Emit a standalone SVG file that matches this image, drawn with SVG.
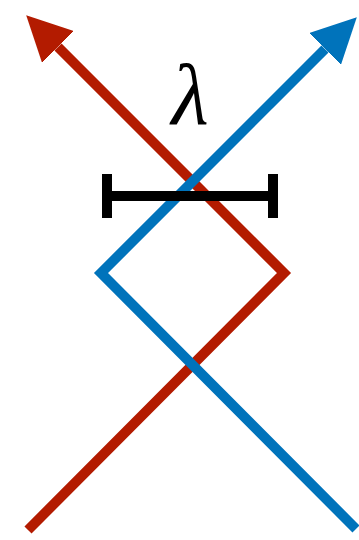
<svg xmlns="http://www.w3.org/2000/svg" width="359" height="540" viewBox="0 0 359 540">
<style>
.ray{fill:none;stroke-width:10;stroke-linejoin:miter;stroke-linecap:butt}
.red{stroke:#b31b00}
.blue{stroke:#0073bb}
.bar{fill:none;stroke:#000;stroke-width:10;stroke-linecap:butt}
.lbl{font-family:"Liberation Serif","DejaVu Serif",serif;font-style:italic;font-size:86px;fill:#000}
</style>
<defs>
<marker id="ahRed" markerUnits="userSpaceOnUse" markerWidth="45" markerHeight="45" refX="0" refY="22.5" orient="auto" viewBox="0 0 45 45">
<path d="M0,0 L45,22.5 L0,45 Z" fill="#b31b00"/>
</marker>
<marker id="ahBlue" markerUnits="userSpaceOnUse" markerWidth="45" markerHeight="45" refX="0" refY="22.5" orient="auto" viewBox="0 0 45 45">
<path d="M0,0 L45,22.5 L0,45 Z" fill="#0073bb"/>
</marker>
</defs>
<g id="connectors">
<path id="red-ray" class="ray red" d="M28,530 L284,273 L58,47" marker-end="url(#ahRed)"/>
<path id="blue-ray" class="ray blue" d="M356,529 L101,273 L325,49" marker-end="url(#ahBlue)"/>
</g>
<g id="scale-bar">
<path class="bar" d="M107,196 H273 M107,174 V218 M273,174 V218"/>
</g>
<g id="label-lambda">
<text class="lbl" x="190" y="124" text-anchor="middle">λ</text>
</g>
</svg>
